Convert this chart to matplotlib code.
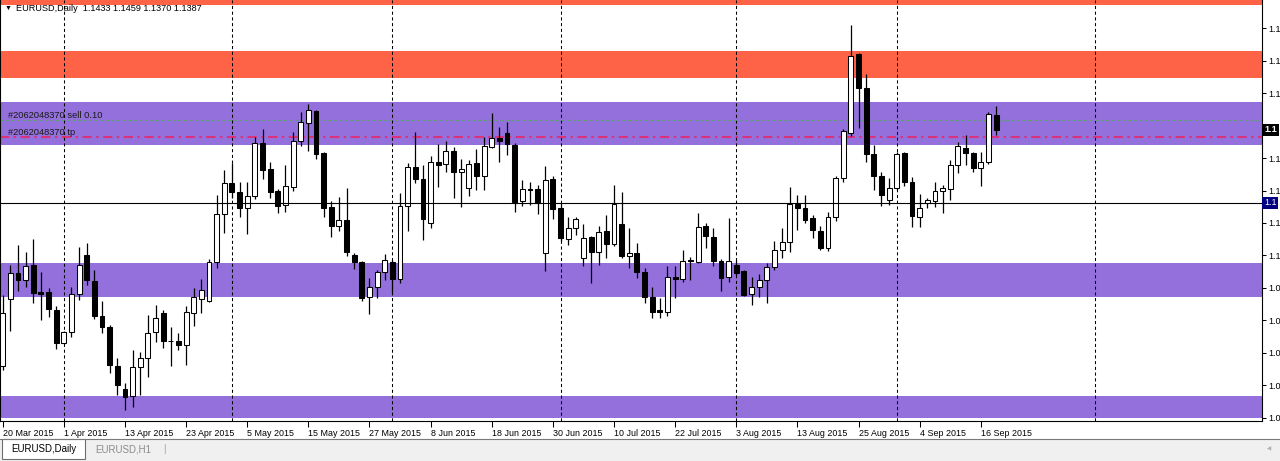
import matplotlib
matplotlib.use('Agg')
import matplotlib.pyplot as plt
from matplotlib.patches import Rectangle

plt.rcParams['font.family'] = ['Liberation Sans', 'DejaVu Sans']

symbol = 'EURUSD,Daily'
other_tab = 'EURUSD,H1'

# daily bars 20 Mar 2015 .. 18 Sep 2015
opens = [1.0658, 1.0865, 1.0947, 1.0925, 1.0970, 1.0888, 1.0887, 1.0832, 1.0730, 1.0764,
         1.0881, 1.1002, 1.0922, 1.0814, 1.0781, 1.0658, 1.0588, 1.0568, 1.0655, 1.0683,
         1.0764, 1.0822, 1.0738, 1.0738, 1.0724, 1.0822, 1.0865, 1.0861, 1.0979, 1.1128,
         1.1222, 1.1195, 1.1145, 1.1183, 1.1346, 1.1267, 1.1200, 1.1156, 1.1212, 1.1354,
         1.1407, 1.1446, 1.1315, 1.1150, 1.1092, 1.1109, 1.1002, 1.0979, 1.0873, 1.0904,
         1.0948, 1.0981, 1.0928, 1.1153, 1.1274, 1.1236, 1.1099, 1.1289, 1.1281, 1.1322,
         1.1256, 1.1209, 1.1284, 1.1245, 1.1335, 1.1361, 1.1376, 1.1340, 1.1168, 1.1204,
         1.1204, 1.1007, 1.1236, 1.1145, 1.1051, 1.1084, 1.0991, 1.1058, 1.1010, 1.1076,
         1.1035, 1.1096, 1.0999, 1.1007, 1.0948, 1.0873, 1.0832, 1.0827, 1.0935, 1.0927,
         1.0986, 1.0981, 1.1091, 1.1058, 1.0984, 1.0933, 1.0971, 1.0953, 1.0882, 1.0904,
         1.0925, 1.0964, 1.1017, 1.1041, 1.1158, 1.1147, 1.1116, 1.1076, 1.1022, 1.1120,
         1.1240, 1.1376, 1.1620, 1.1515, 1.1312, 1.1246, 1.1171, 1.1209, 1.1315, 1.1226,
         1.1120, 1.1161, 1.1168, 1.1200, 1.1205, 1.1279, 1.1332, 1.1315, 1.1269, 1.1287,
         1.1433]
highs = [1.0878, 1.0971, 1.1032, 1.1012, 1.1051, 1.0950, 1.0899, 1.0845, 1.0768, 1.0904,
         1.1025, 1.1038, 1.0955, 1.0860, 1.0786, 1.0683, 1.0606, 1.0709, 1.0704, 1.0817,
         1.0848, 1.0832, 1.0781, 1.0760, 1.0845, 1.0899, 1.0927, 1.0988, 1.1186, 1.1263,
         1.1284, 1.1226, 1.1226, 1.1366, 1.1390, 1.1287, 1.1205, 1.1279, 1.1380, 1.1443,
         1.1467, 1.1448, 1.1320, 1.1168, 1.1181, 1.1207, 1.1007, 1.0982, 1.0930, 1.0955,
         1.1004, 1.0986, 1.1192, 1.1284, 1.1380, 1.1279, 1.1307, 1.1343, 1.1353, 1.1335,
         1.1296, 1.1294, 1.1328, 1.1364, 1.1438, 1.1397, 1.1412, 1.1346, 1.1233, 1.1227,
         1.1217, 1.1277, 1.1246, 1.1162, 1.1120, 1.1120, 1.1096, 1.1061, 1.1092, 1.1125,
         1.1217, 1.1195, 1.1084, 1.1038, 1.0961, 1.0904, 1.0868, 1.0966, 1.0966, 1.1017,
         1.0995, 1.1130, 1.1099, 1.1084, 1.0988, 1.1115, 1.0986, 1.0955, 1.0935, 1.0943,
         1.0976, 1.1043, 1.1084, 1.1212, 1.1186, 1.1186, 1.1125, 1.1092, 1.1135, 1.1246,
         1.1390, 1.1710, 1.1623, 1.1558, 1.1340, 1.1258, 1.1239, 1.1320, 1.1320, 1.1243,
         1.1189, 1.1176, 1.1227, 1.1217, 1.1294, 1.1351, 1.1371, 1.1320, 1.1318, 1.1441,
         1.1459]
lows = [1.0647, 1.0768, 1.0889, 1.0902, 1.0853, 1.0801, 1.0810, 1.0712, 1.0728, 1.0750,
        1.0863, 1.0909, 1.0804, 1.0762, 1.0637, 1.0570, 1.0524, 1.0533, 1.0570, 1.0625,
        1.0732, 1.0714, 1.0658, 1.0709, 1.0663, 1.0783, 1.0822, 1.0858, 1.0961, 1.1068,
        1.1176, 1.1120, 1.1065, 1.1174, 1.1236, 1.1176, 1.1130, 1.1133, 1.1199, 1.1338,
        1.1322, 1.1297, 1.1117, 1.1058, 1.1076, 1.0999, 1.0959, 1.0860, 1.0819, 1.0868,
        1.0925, 1.0884, 1.0914, 1.1076, 1.1222, 1.1048, 1.1084, 1.1212, 1.1258, 1.1178,
        1.1150, 1.1184, 1.1202, 1.1202, 1.1330, 1.1289, 1.1310, 1.1135, 1.1153, 1.1156,
        1.1127, 1.0952, 1.1113, 1.1043, 1.1032, 1.1063, 1.0969, 1.0914, 1.0971, 1.0991,
        1.1030, 1.0993, 1.0962, 1.0932, 1.0853, 1.0807, 1.0807, 1.0812, 1.0868, 1.0919,
        1.0925, 1.0976, 1.1022, 1.0966, 1.0892, 1.0919, 1.0940, 1.0875, 1.0848, 1.0873,
        1.0855, 1.0955, 1.0991, 1.1012, 1.1079, 1.1099, 1.1055, 1.1017, 1.1014, 1.1106,
        1.1227, 1.1369, 1.1394, 1.1289, 1.1202, 1.1153, 1.1156, 1.1202, 1.1215, 1.1089,
        1.1089, 1.1147, 1.1150, 1.1130, 1.1171, 1.1253, 1.1279, 1.1256, 1.1215, 1.1281,
        1.1370]
closes = [1.0822, 1.0947, 1.0925, 1.0969, 1.0884, 1.0882, 1.0834, 1.0730, 1.0764, 1.0881,
          1.0970, 1.0925, 1.0815, 1.0781, 1.0661, 1.0601, 1.0565, 1.0656, 1.0683, 1.0760,
          1.0807, 1.0738, 1.0736, 1.0724, 1.0825, 1.0873, 1.0894, 1.0981, 1.1128, 1.1222,
          1.1197, 1.1145, 1.1184, 1.1346, 1.1263, 1.1197, 1.1153, 1.1214, 1.1354, 1.1410,
          1.1448, 1.1312, 1.1147, 1.1092, 1.1109, 1.1012, 1.0979, 1.0870, 1.0904, 1.0948,
          1.0986, 1.0928, 1.1153, 1.1274, 1.1236, 1.1113, 1.1289, 1.1279, 1.1322, 1.1256,
          1.1266, 1.1281, 1.1246, 1.1337, 1.1361, 1.1353, 1.1343, 1.1164, 1.1205, 1.1202,
          1.1161, 1.1233, 1.1143, 1.1053, 1.1084, 1.1112, 1.1055, 1.1010, 1.1073, 1.1036,
          1.1158, 1.0999, 1.1007, 1.0948, 1.0873, 1.0827, 1.0825, 1.0935, 1.0927, 1.0984,
          1.0983, 1.1087, 1.1060, 1.0984, 1.0930, 1.0984, 1.0947, 1.0878, 1.0904, 1.0925,
          1.0964, 1.1017, 1.1041, 1.1158, 1.1147, 1.1109, 1.1079, 1.1022, 1.1120, 1.1240,
          1.1384, 1.1615, 1.1517, 1.1312, 1.1246, 1.1186, 1.1209, 1.1312, 1.1226, 1.1123,
          1.1147, 1.1171, 1.1200, 1.1207, 1.1279, 1.1338, 1.1315, 1.1269, 1.1289, 1.1435,
          1.1387]

date_labels = ['20 Mar 2015', '1 Apr 2015', '13 Apr 2015', '23 Apr 2015', '5 May 2015',
               '15 May 2015', '27 May 2015', '8 Jun 2015', '18 Jun 2015', '30 Jun 2015',
               '10 Jul 2015', '22 Jul 2015', '3 Aug 2015', '13 Aug 2015', '25 Aug 2015',
               '4 Sep 2015', '16 Sep 2015']
date_label_bars = list(range(0, 129, 8))
separator_bars = [8, 30, 51, 73, 96, 117, 143]

red_zones = [(1.1547, 1.1630), (1.1772, 1.1800)]
purple_zones = [(1.1340, 1.1473), (1.0872, 1.0977), (1.0500, 1.0567)]
hline_price = 1.1162
order_ticket = '#2062048370'
order_lots = 0.10
order_open = 1.1417
order_tp = 1.1364
price_ticks = [1.17, 1.16, 1.15, 1.13, 1.12, 1.11, 1.10, 1.09, 1.08, 1.07, 1.06, 1.05]

W, H = 1280, 461
fig = plt.figure(figsize=(W / 100, H / 100), dpi=100)
fig.patch.set_facecolor('white')
ax = fig.add_axes([0, 40 / H, 1262 / W, 421 / H])

for lo, hi in red_zones:
    ax.axhspan(lo, hi, color='#FF6347', lw=0, zorder=0)
for lo, hi in purple_zones:
    ax.axhspan(lo, hi, color='#9370DB', lw=0, zorder=0)

for b in separator_bars:
    ax.axvline(b, color='black', lw=0.75, ls=(0, (3, 2.5)), zorder=1)

ax.axhline(order_open, color='#55A868', lw=0.8, ls=(0, (2.5, 2.5)), zorder=2)
ax.axhline(order_tp, color='#F0205A', lw=1.1, ls=(0, (6, 3, 1.5, 3)), zorder=2)

# candles
xs = list(range(len(opens)))
ax.vlines(xs, lows, highs, color='black', lw=0.9, zorder=3)
body_lo = [min(o, c) for o, c in zip(opens, closes)]
body_h = [max(abs(c - o), 0.00004) for o, c in zip(opens, closes)]
body_col = ['white' if c >= o else 'black' for o, c in zip(opens, closes)]
ax.bar(xs, body_h, bottom=body_lo, width=0.64, color=body_col,
       edgecolor='black', linewidth=0.75, zorder=4)

ax.axhline(hline_price, color='black', lw=0.8, zorder=5)

ax.annotate(f'{order_ticket} sell {order_lots:.2f}', xy=(0.006, order_open),
            xycoords=('axes fraction', 'data'), va='bottom', ha='left',
            fontsize=6.7, color='#1a1a1a', zorder=6)
ax.annotate(f'{order_ticket} tp', xy=(0.006, order_tp),
            xycoords=('axes fraction', 'data'), va='bottom', ha='left',
            fontsize=6.7, color='#1a1a1a', zorder=6)

ax.set_xlim(-0.353, 164.8)
ax.set_ylim(1.0490, 1.1787)
ax.set_xticks(date_label_bars, date_labels)
for t in ax.get_xticklabels():
    t.set_ha('left')
ax.tick_params(axis='x', length=4, width=0.75, pad=1.5, labelsize=6.4,
               direction='out', colors='black')
ax.yaxis.tick_right()
ax.set_yticks(price_ticks, [f'{v:.2f}'[:3] for v in price_ticks])
ax.tick_params(axis='y', length=3, width=0.75, pad=1.2, labelsize=6.5,
               direction='out', colors='black')
for side in ['left', 'right', 'bottom']:
    ax.spines[side].set_linewidth(0.8)
    ax.spines[side].set_color('black')
ax.spines['top'].set_visible(False)

# price boxes on the scale
ax.annotate(f'{closes[-1]:.4f}'[:3], xy=(1.0, closes[-1]), xycoords=('axes fraction', 'data'),
            xytext=(1.5, 0), textcoords='offset points', va='center', ha='left',
            fontsize=6.5, color='white', fontweight='bold', zorder=7, annotation_clip=False,
            bbox=dict(boxstyle='square,pad=0.2', fc='black', ec='none'))
ax.annotate(f'{hline_price:.4f}'[:3], xy=(1.0, hline_price), xycoords=('axes fraction', 'data'),
            xytext=(1.5, 0), textcoords='offset points', va='center', ha='left',
            fontsize=6.5, color='white', zorder=7, annotation_clip=False,
            bbox=dict(boxstyle='square,pad=0.2', fc='#000080', ec='none'))

# chart caption
fig.text(5 / W, 1 - 8.5 / H, '\u25bc', fontsize=5, va='center', ha='left')
fig.text(16 / W, 1 - 8.5 / H,
         f'{symbol}  {opens[-1]:.4f} {highs[-1]:.4f} {lows[-1]:.4f} {closes[-1]:.4f}',
         fontsize=6.6, va='center', ha='left')

# tab bar
fig.patches.append(Rectangle((0, 0), 1, 22 / H, transform=fig.transFigure,
                             fc='#F0F0F0', ec='none', zorder=0))
fig.lines.append(plt.Line2D([0, 1], [22 / H, 22 / H], transform=fig.transFigure,
                            color='#7A7A7A', lw=0.8))
fig.patches.append(Rectangle((2 / W, 2 / H), 83 / W, 20 / H, transform=fig.transFigure,
                             fc='white', ec='#6E6E6E', lw=0.8, zorder=1))
fig.text(43.5 / W, 12 / H, symbol, fontsize=7, va='center', ha='center')
fig.text(95 / W, 12 / H, other_tab, fontsize=7, va='center', ha='left', color='#8C8C8C')
fig.text(163 / W, 12 / H, '|', fontsize=7, va='center', ha='left', color='#A0A0A0')
fig.text(1267 / W, 12 / H, '\u25c0', fontsize=4, va='center', ha='left', color='#B0B0B0')

fig.savefig('out.png', dpi=100)
